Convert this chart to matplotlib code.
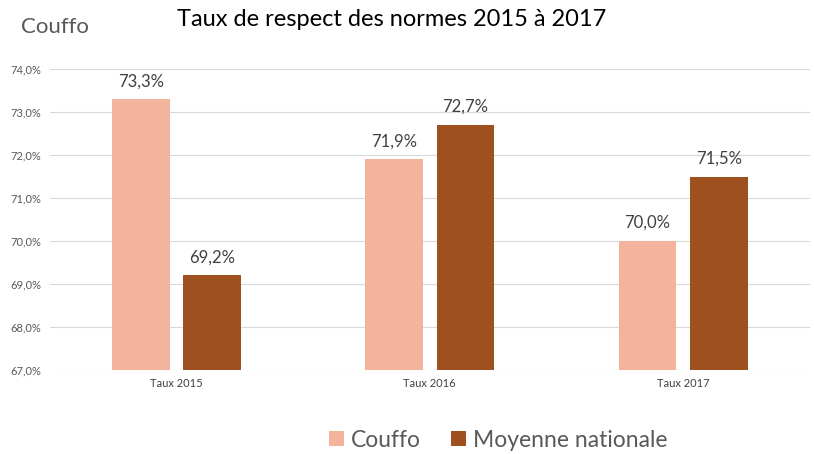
import numpy as np
import matplotlib
matplotlib.use("Agg")
import matplotlib.pyplot as plt

plt.rcParams['font.family'] = ['Lato', 'DejaVu Sans']

categories = ["Taux 2015", "Taux 2016", "Taux 2017"]
couffo = [73.3, 71.9, 70.0]
moyenne = [69.2, 72.7, 71.5]
yticks = [67, 68, 69, 70, 71, 72, 73, 74]

c_light = "#F4B39C"
c_dark = "#9E511F"

fig = plt.figure(figsize=(8.14, 4.54), dpi=100)
ax = fig.add_axes([0.061, 0.185, 0.934, 0.663])

x = np.arange(len(categories))
w = 0.228
off = 0.141
b1 = ax.bar(x - off, couffo, w, color=c_light, zorder=3)
b2 = ax.bar(x + off, moyenne, w, color=c_dark, zorder=3)

for bars, vals in ((b1, couffo), (b2, moyenne)):
    for b, v in zip(bars, vals):
        ax.text(b.get_x() + b.get_width() / 2, v + 0.23, f"{v:.1f}%".replace(".", ","),
                ha="center", va="bottom", fontsize=12, color="#404040")

ax.set_xlim(-0.5, 2.5)
ax.set_ylim(67, 74)
ax.set_yticks(yticks)
ax.set_yticklabels([f"{t:.1f}%".replace(".", ",") for t in yticks], fontsize=8, color="#595959")
ax.set_xticks(x)
ax.set_xticklabels(categories, fontsize=8, color="#404040")
ax.tick_params(length=0, pad=6)
ax.grid(axis="y", color="#D9D9D9", linewidth=0.8, zorder=0)
for s in ax.spines.values():
    s.set_visible(False)

fig.text(0.481, 0.958, "Taux de respect des normes 2015 à 2017", ha="center", va="center",
         fontsize=17, color="black")
fig.text(0.026, 0.94, "Couffo", ha="left", va="center", fontsize=16, color="#595959")

ax.legend([b1, b2], ["Couffo", "Moyenne nationale"], loc="center", bbox_to_anchor=(0.612, 0.03),
          bbox_transform=fig.transFigure, ncol=2, frameon=False, fontsize=16.5,
          handlelength=0.65, handleheight=0.65, handletextpad=0.3, columnspacing=1.3,
          labelcolor="#595959")

fig.savefig("out.png", dpi=100)
